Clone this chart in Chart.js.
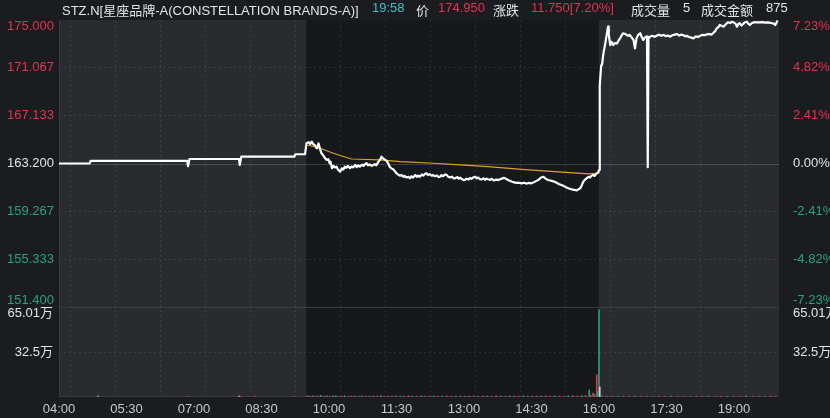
<!DOCTYPE html>
<html>
<head>
<meta charset="utf-8">
<script src="https://cdn.jsdelivr.net/npm/chart.js@4.4.1/dist/chart.umd.min.js"></script>
<style>
html, body { margin: 0; padding: 0; background: #1b1c20; overflow: hidden; }
#wrap { position: relative; width: 830px; height: 418px; }
#head { position: absolute; left: 0; top: 0; width: 830px; height: 18px; line-height: 18px;
  font: 13px "Liberation Sans", "Noto Sans CJK SC", sans-serif; color: #e4e4e4; z-index: 2; }
#head span { position: absolute; top: 0; white-space: nowrap; }
.red { color: #e8304f; }
.teal { color: #3fc0c4; }
canvas { position: absolute; left: 0; top: 0; }
</style>
</head>
<body>
<div id="wrap">
  <div id="head">
    <span style="left:62px">STZ.N[星座品牌-A(CONSTELLATION BRANDS-A)]</span>
    <span class="teal" style="left:372px">19:58</span>
    <span style="left:416px">价</span>
    <span class="red" style="left:438px">174.950</span>
    <span style="left:493px">涨跌</span>
    <span class="red" style="left:531px">11.750[7.20%]</span>
    <span style="left:631px">成交量</span>
    <span style="left:683px">5</span>
    <span style="left:701px">成交金额</span>
    <span style="left:766px">875</span>
  </div>
  <canvas id="c" width="830" height="418"></canvas>
</div>
<script>
// minutes counted from 04:00
var prevClose = 163.2;
var sessionBounds = [0, 330, 720, 960];
var priceTicks = [151.4, 155.333, 159.267, 163.2, 167.133, 171.067, 175.0];
var pctTicks = [-7.23, -4.82, -2.41, 0, 2.41, 4.82, 7.23];
var volTicks = [0, 325000, 650100];
var timeTicks = [0,30,60,90,120,150,180,210,240,270,300,330,360,390,420,450,480,510,540,570,600,630,660,690,720,750,780,810,840,870,900,930,960];

var priceMin = [0,41,42,171,172,174,240,241,243,314,315,328,
  330,333,335,337,339,341,343,344,346,348,350,352,354,357,359,361,362,364,366,368,370,372,375,377,379,381,383,385,388,390,392,395,397,399,401,404,406,408,410,412,414,417,419,421,423,426,428,430,432,435,437,439,441,443,446,448,450,452,455,457,459,461,463,466,468,470,472,475,477,479,481,484,486,488,490,492,494,497,499,501,504,506,508,510,512,515,517,519,522,524,526,528,531,533,535,537,539,541,543,546,548,550,552,555,557,559,561,564,566,568,570,572,575,577,580,583,586,588,590,593,595,597,600,602,604,607,610,613,617,620,623,626,630,633,636,639,641,643,646,648,650,652,655,658,661,664,667,670,673,676,679,682,685,688,690,692,695,697,699,701,703,706,708,710,712,714,717,719,720,
  721,722,723,724,726,728,730,732,733,735,737,739,741,744,746,748,750,752,755,757,759,761,763,766,768,770,772,775,777,779,781,783,784,785,786,788,791,794,797,800,803,806,809,812,815,818,821,824,827,830,832,835,837,840,843,846,849,852,855,858,861,864,867,870,872,875,877,879,881,884,886,889,892,895,897,899,902,904,906,908,910,912,914,917,919,921,924,927,930,934,938,941,944,947,951,953,955,956,958];
var priceVal = [163.20,163.20,163.41,163.41,162.98,163.57,163.57,163.08,163.76,163.76,163.96,163.96,
  164.86,164.95,164.80,165.00,164.78,164.72,164.50,164.45,164.86,164.40,164.04,163.90,163.70,163.49,163.55,163.22,163.35,162.81,163.00,162.88,162.94,162.70,162.53,162.80,162.70,162.94,162.85,163.00,162.81,162.95,162.88,163.08,162.90,163.05,162.94,163.10,163.00,163.15,163.22,163.05,163.12,163.00,163.08,163.15,163.05,163.35,163.50,163.76,163.62,163.49,163.40,163.20,162.94,162.80,162.70,162.55,162.39,162.30,162.20,162.25,162.11,162.18,162.05,162.10,161.98,162.15,162.05,162.25,162.10,162.20,162.11,162.30,162.20,162.35,162.39,162.25,162.33,162.20,162.25,162.15,162.22,162.08,162.11,162.25,162.15,162.30,162.25,162.10,162.05,162.12,161.98,161.98,162.08,161.95,162.03,161.92,161.85,161.84,161.95,161.88,162.00,161.94,162.05,162.11,161.98,162.04,161.92,161.90,161.98,161.86,161.95,161.90,161.85,161.93,161.80,161.88,161.84,161.90,161.95,162.02,161.98,161.90,161.80,161.76,161.70,161.65,161.60,161.62,161.57,161.62,161.55,161.60,161.57,161.65,161.75,161.84,161.95,162.05,162.11,162.00,161.92,161.84,161.80,161.75,161.70,161.60,161.50,161.43,161.35,161.25,161.16,161.10,161.05,161.02,160.98,161.05,161.16,161.40,161.70,161.85,161.95,162.11,162.05,162.20,162.25,162.18,162.39,162.45,162.67,
  169.60,170.50,171.30,171.30,172.30,172.94,173.70,174.45,173.80,172.94,173.20,172.94,173.10,173.08,173.30,173.49,173.70,173.91,173.85,173.77,173.70,173.77,173.60,173.36,172.67,173.49,173.75,173.91,173.60,173.36,173.55,173.63,173.63,162.90,173.50,173.63,173.70,173.62,173.71,173.80,173.70,173.77,173.68,173.72,173.63,173.75,173.80,173.85,173.72,173.80,173.77,173.65,173.71,173.60,173.55,173.49,173.65,173.60,173.71,173.78,173.75,173.82,173.85,173.80,173.91,174.10,174.32,174.40,174.59,174.50,174.45,174.65,174.81,174.75,174.85,174.81,174.70,174.45,174.70,174.73,174.55,174.65,174.80,174.86,174.70,174.59,174.75,174.82,174.81,174.80,174.82,174.78,174.81,174.78,174.73,174.70,174.59,174.70,174.95];

var avgMin = [330,340,348,357,366,378,390,400,428,455,499,535,572,617,661,706,719];
var avgVal = [164.72,164.60,164.45,164.25,164.04,163.80,163.57,163.55,163.49,163.35,163.22,163.08,162.94,162.72,162.53,162.34,162.39];

var volMin = [52,172,240,243,261,313,
  331,334,338,341,345,349,353,357,361,365,369,373,377,381,386,390,395,400,404,409,414,419,424,429,434,439,444,449,455,460,466,471,477,483,488,494,500,505,511,517,523,529,535,541,547,553,559,565,571,577,583,589,595,601,607,613,619,625,631,637,643,649,655,661,667,673,679,685,691,697,702,
  707,709,712,714,717,718,720,721,
  724,730,738,745,752,760,768,776,784,792,800,808,816,825,833,842,850,858,866,875,883,891,900,908,916,925,933,941,949,955];
var volVal = [6000,5000,6000,5000,6000,5000,
  9000,7000,10000,6000,8000,12000,7000,9000,6000,8000,10000,6000,7000,9000,6000,8000,7000,6000,9000,7000,6000,8000,7000,10000,6000,8000,7000,9000,6000,7000,8000,6000,7000,9000,6000,7000,8000,6000,7000,9000,6000,7000,8000,6000,7000,9000,6000,8000,7000,6000,9000,7000,6000,8000,7000,6000,9000,7000,6000,8000,7000,9000,6000,8000,7000,6000,9000,11000,7000,10000,12000,
  50000,14000,28000,18000,160000,40000,630000,72000,
  8000,6000,7000,6000,5000,7000,6000,5000,6000,5000,7000,5000,6000,5000,6000,5000,6000,5000,7000,5000,6000,5000,6000,5000,7000,5000,6000,5000,6000,5000];
var volDir = ['flat','up','flat','up','up','up',
  'up','down','up','down','up','down','up','down','up','down','down','up','up','down','up','up','down','up','down','up','down','up','up','down','up','up','down','up','down','up','up','down','up','down','up','up','down','up','down','up','up','down','up','down','up','up','down','up','down','up','up','down','up','down','up','up','down','up','down','up','down','up','up','down','up','up','down','up','up','down','up',
  'down','up','up','down','up','down','down','flat',
  'up','down','up','down','up','up','down','up','up','down','up','up','down','up','up','down','up','up','down','up','up','down','up','up','down','up','up','down','up','up'];

var FONT = '"Liberation Sans", "Noto Sans CJK SC", sans-serif';
var RED = '#e8304f', GREEN = '#22a57a', WHITE = '#e4e4e4';

function hhmm(m) {
  var h = 4 + Math.floor(m / 60), mm = m % 60;
  return (h < 10 ? '0' : '') + h + ':' + (mm < 10 ? '0' : '') + mm;
}
function edgeLabel(v, lo, hi, s) {
  if (v === hi) return ['', s];
  if (v === lo) return [s, ''];
  return s;
}
function tickFont(lo, hi) {
  return function (ctx) {
    var v = ctx.tick ? ctx.tick.value : null;
    return { family: FONT, size: 13, lineHeight: (v === lo || v === hi) ? 1.0 : 1.2 };
  };
}
function setTicks(list) {
  return function (s) { s.ticks = list.map(function (v) { return { value: v }; }); };
}
function signColor(v, mid) {
  return v > mid + 1e-9 ? RED : (v < mid - 1e-9 ? GREEN : WHITE);
}
function volLabel(v) {
  if (v === 0) return '';
  var s = (Math.round(v / 100) / 100) + '万';
  return v === volTicks[volTicks.length - 1] ? ['', s] : s;
}

var backdrop = {
  id: 'backdrop',
  beforeDraw: function (chart) {
    var c = chart.ctx, a = chart.chartArea, x = chart.scales.x;
    c.save();
    c.fillStyle = '#1b1c20';
    c.fillRect(0, 0, chart.width, chart.height);
    var fills = ['#2a2b2f', '#17181b', '#2a2b2f'];
    for (var i = 0; i < 3; i++) {
      var x0 = x.getPixelForValue(sessionBounds[i]), x1 = x.getPixelForValue(sessionBounds[i + 1]);
      c.fillStyle = fills[i];
      c.fillRect(x0, a.top, x1 - x0, a.bottom - a.top);
    }
    c.restore();
  },
  beforeDatasetsDraw: function (chart) {
    var c = chart.ctx, a = chart.chartArea, s = chart.scales;
    c.save();
    c.lineWidth = 1;
    c.strokeStyle = '#3b3c41';
    var yd = Math.round(s.y.getPixelForValue(priceTicks[0])) + 0.5;
    var yb = Math.round(s.yv.getPixelForValue(0)) - 0.5;
    c.beginPath();
    c.moveTo(a.left, yd); c.lineTo(a.right, yd);
    c.moveTo(a.left, yb); c.lineTo(a.right, yb);
    c.moveTo(a.left + 0.5, a.top); c.lineTo(a.left + 0.5, a.bottom);
    c.stroke();
    var yc = Math.round(s.y.getPixelForValue(prevClose)) + 0.5;
    c.strokeStyle = 'rgba(255,255,255,0.16)';
    c.beginPath(); c.moveTo(a.left, yc); c.lineTo(a.right, yc); c.stroke();
    c.restore();
  }
};

var gridDash = 'rgba(255,255,255,0.10)';

new Chart(document.getElementById('c'), {
  type: 'line',
  data: {
    datasets: [
      {
        type: 'line', label: '价', yAxisID: 'y', order: 0,
        data: priceMin.map(function (m, i) { return { x: m, y: priceVal[i] }; }),
        borderColor: '#ffffff', borderWidth: 2.2, pointRadius: 0, tension: 0, borderJoinStyle: 'round'
      },
      {
        type: 'line', label: '均价', yAxisID: 'y', order: 1,
        data: avgMin.map(function (m, i) { return { x: m, y: avgVal[i] }; }),
        borderColor: '#dca21c', borderWidth: 1.2, pointRadius: 0, tension: 0
      },
      {
        type: 'bar', label: '成交量', yAxisID: 'yv', order: 2,
        data: volMin.map(function (m, i) { return { x: m, y: volVal[i] }; }),
        backgroundColor: volDir.map(function (d) { return d === 'up' ? RED : (d === 'down' ? GREEN : '#cfcfcf'); }),
        barThickness: 1, borderWidth: 0
      }
    ]
  },
  options: {
    responsive: false, animation: false, devicePixelRatio: 1,
    layout: { padding: { top: 20, left: 0, right: 0, bottom: 0 } },
    plugins: { legend: { display: false }, tooltip: { enabled: false } },
    scales: {
      x: {
        type: 'linear', position: 'bottom', min: 0, max: 960, offset: false,
        afterBuildTicks: setTicks(timeTicks),
        afterFit: function (s) { s.height = 21; },
        ticks: {
          autoSkip: false, maxRotation: 0, minRotation: 0, padding: 5, color: '#c8c8c8',
          font: { family: FONT, size: 13 },
          callback: function (v) { return v % 90 === 0 && v < 960 ? hhmm(v) : ''; }
        },
        grid: {
          drawTicks: false,
          color: function (ctx) { return ctx.tick && ctx.tick.value % 60 === 30 ? gridDash : 'rgba(0,0,0,0)'; }
        },
        border: { display: false, dash: [2, 3] }
      },
      y: {
        type: 'linear', position: 'left', stack: 'L', stackWeight: 287, weight: 1,
        min: priceTicks[0], max: priceTicks[priceTicks.length - 1],
        afterBuildTicks: setTicks(priceTicks),
        afterFit: function (s) { s.width = 59; },
        ticks: {
          autoSkip: false, padding: 5,
          font: tickFont(priceTicks[0], priceTicks[priceTicks.length - 1]),
          color: function (ctx) { return signColor(ctx.tick.value, prevClose); },
          callback: function (v) { return edgeLabel(v, priceTicks[0], priceTicks[priceTicks.length - 1], v.toFixed(3)); }
        },
        grid: {
          drawTicks: false,
          color: function (ctx) {
            var v = ctx.tick ? ctx.tick.value : null;
            return (v === priceTicks[0] || v === priceTicks[priceTicks.length - 1] || v === prevClose) ? 'rgba(0,0,0,0)' : gridDash;
          }
        },
        border: { display: false, dash: [2, 3] }
      },
      yv: {
        type: 'linear', position: 'left', stack: 'L', stackWeight: 90, weight: 0,
        min: 0, max: volTicks[volTicks.length - 1],
        afterBuildTicks: setTicks(volTicks),
        afterFit: function (s) { s.width = 59; },
        ticks: {
          autoSkip: false, padding: 6, color: WHITE,
          font: tickFont(0, volTicks[volTicks.length - 1]),
          callback: volLabel
        },
        grid: {
          drawTicks: false,
          color: function (ctx) { return ctx.tick && ctx.tick.value === volTicks[1] ? gridDash : 'rgba(0,0,0,0)'; }
        },
        border: { display: false, dash: [2, 3] }
      },
      yp: {
        type: 'linear', position: 'right', stack: 'R', stackWeight: 287, weight: 0,
        min: pctTicks[0], max: pctTicks[pctTicks.length - 1],
        afterBuildTicks: setTicks(pctTicks),
        afterFit: function (s) { s.width = 51; },
        ticks: {
          autoSkip: false, padding: 6,
          font: tickFont(pctTicks[0], pctTicks[pctTicks.length - 1]),
          color: function (ctx) { return signColor(ctx.tick.value, 0); },
          callback: function (v) { return edgeLabel(v, pctTicks[0], pctTicks[pctTicks.length - 1], v.toFixed(2) + '%'); }
        },
        grid: { display: false },
        border: { display: false }
      },
      yv2: {
        type: 'linear', position: 'right', stack: 'R', stackWeight: 90, weight: 1,
        min: 0, max: volTicks[volTicks.length - 1],
        afterBuildTicks: setTicks(volTicks),
        afterFit: function (s) { s.width = 51; },
        ticks: {
          autoSkip: false, padding: 6, color: WHITE,
          font: tickFont(0, volTicks[volTicks.length - 1]),
          callback: volLabel
        },
        grid: { display: false },
        border: { display: false }
      }
    }
  },
  plugins: [backdrop]
});
</script>
</body>
</html>
